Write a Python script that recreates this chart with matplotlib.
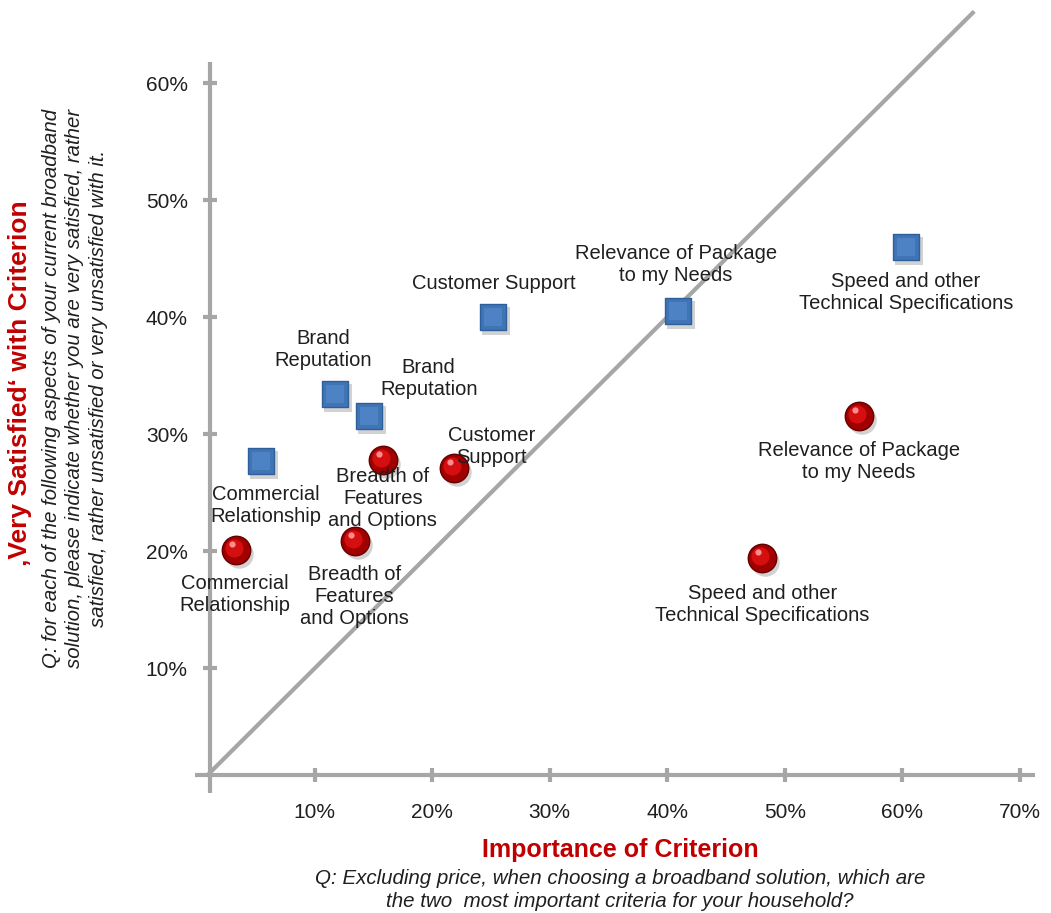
import matplotlib
matplotlib.use('Agg')
import matplotlib.pyplot as plt
import matplotlib.transforms as mtransforms
from matplotlib.ticker import PercentFormatter

plt.rcParams['font.family'] = ['Liberation Sans', 'DejaVu Sans']

# Dados (fração): importância (x) vs. muito satisfeito (y)
sq_labels = ['Commercial\nRelationship', 'Brand\nReputation', 'Brand\nReputation',
             'Customer Support', 'Relevance of Package\nto my Needs',
             'Speed and other\nTechnical Specifications']
sq_x = [0.054, 0.117, 0.146, 0.252, 0.409, 0.603]
sq_y = [0.277, 0.334, 0.316, 0.400, 0.405, 0.460]

ci_labels = ['Commercial\nRelationship', 'Breadth of\nFeatures\nand Options',
             'Breadth of\nFeatures\nand Options', 'Customer\nSupport',
             'Relevance of Package\nto my Needs',
             'Speed and other\nTechnical Specifications']
ci_x = [0.033, 0.134, 0.158, 0.219, 0.563, 0.481]
ci_y = [0.201, 0.209, 0.278, 0.271, 0.316, 0.194]

x_ticks = [0.1, 0.2, 0.3, 0.4, 0.5, 0.6, 0.7]
y_ticks = [0.1, 0.2, 0.3, 0.4, 0.5, 0.6]
diag = [0.011, 0.66]

# deslocamento dos rótulos (pixels)
sq_off = [(5, -44), (-11, 45), (60, 37), (1, 34), (-2, 47), (0, -46)]
ci_off = [(-1, -44), (0, -56), (0, -38), (37, 22), (0, -46), (0, -46)]

GRAY = '#a6a6a6'
RED = '#c00000'
TXT = '#1f1f1f'

fig = plt.figure(figsize=(10.51, 9.13), dpi=100)
ax = fig.add_axes([0.1998, 0.1512, 0.785, 0.7809])
ax.set_xlim(0.011, 0.713)
ax.set_ylim(0.009, 0.618)
for s in ax.spines.values():
    s.set_visible(False)

# eixos desenhados à mão (com pequeno prolongamento)
ax.plot([-0.018, 1.0], [0, 0], color=GRAY, lw=3, transform=ax.transAxes, clip_on=False, solid_capstyle='butt')
ax.plot([0, 0], [-0.025, 1.0], color=GRAY, lw=3, transform=ax.transAxes, clip_on=False, solid_capstyle='butt')

# diagonal
ax.plot(diag, diag, color=GRAY, lw=3, clip_on=False, zorder=1)

ax.set_xticks(x_ticks)
ax.set_yticks(y_ticks)
ax.xaxis.set_major_formatter(PercentFormatter(1.0, decimals=0))
ax.yaxis.set_major_formatter(PercentFormatter(1.0, decimals=0))
ax.tick_params(axis='both', direction='inout', length=10, width=3, color=GRAY,
               labelsize=15, labelcolor=TXT)
ax.tick_params(axis='x', pad=15)
ax.tick_params(axis='y', pad=11)

def shifted(dx, dy):
    return mtransforms.offset_copy(ax.transData, fig=fig, x=dx, y=dy, units='dots')

# quadrados azuis
ax.scatter(sq_x, sq_y, s=380, marker='s', color='#7f7f7f', alpha=0.35, lw=0,
           transform=shifted(3, -4), zorder=3)
ax.scatter(sq_x, sq_y, s=370, marker='s', color='#3f74b5', edgecolor='#2f5f9a', lw=1, zorder=4)
ax.scatter(sq_x, sq_y, s=170, marker='s', color='#4d83c4', lw=0, zorder=5)

# esferas vermelhas
ax.scatter(ci_x, ci_y, s=420, marker='o', color='#7f7f7f', alpha=0.35, lw=0,
           transform=shifted(3, -4), zorder=3)
ax.scatter(ci_x, ci_y, s=420, marker='o', color='#a00000', edgecolor='#650000', lw=1, zorder=4)
ax.scatter(ci_x, ci_y, s=170, marker='o', color='#d50f0f', lw=0,
           transform=shifted(-2, 2), zorder=5)
ax.scatter(ci_x, ci_y, s=20, marker='o', color='#ff8c8c', lw=0,
           transform=shifted(-4, 6), zorder=6)

for lab, x, y, off in zip(sq_labels, sq_x, sq_y, sq_off):
    ax.annotate(lab, (x, y), xytext=off, textcoords='offset pixels', ha='center', va='center',
                fontsize=14.5, color=TXT, linespacing=1.2, zorder=7)
for lab, x, y, off in zip(ci_labels, ci_x, ci_y, ci_off):
    ax.annotate(lab, (x, y), xytext=off, textcoords='offset pixels', ha='center', va='center',
                fontsize=14.5, color=TXT, linespacing=1.2, zorder=7)

# títulos dos eixos
fig.text(620 / 1051, 1 - 850 / 913, 'Importance of Criterion', ha='center', va='center',
         fontsize=18, fontweight='bold', color=RED)
fig.text(620 / 1051, 1 - 890 / 913,
         'Q: Excluding price, when choosing a broadband solution, which are\n'
         'the two  most important criteria for your household?',
         ha='center', va='center', fontsize=14.8, style='italic', color=TXT, linespacing=1.22)

fig.text(20 / 1051, 1 - 383 / 913, '\u201aVery Satisfied\u2018 with Criterion', rotation=90,
         ha='center', va='center', fontsize=19, fontweight='bold', color=RED)
fig.text(75 / 1051, 1 - 388 / 913,
         'Q: for each of the following aspects of your current broadband\n'
         'solution, please indicate whether you are very satisfied, rather\n'
         'satisfied, rather unsatisfied or very unsatisfied with it.',
         rotation=90, ha='center', va='center', fontsize=14.7, style='italic', color=TXT,
         linespacing=1.3)

plt.savefig('out.png', dpi=100)
